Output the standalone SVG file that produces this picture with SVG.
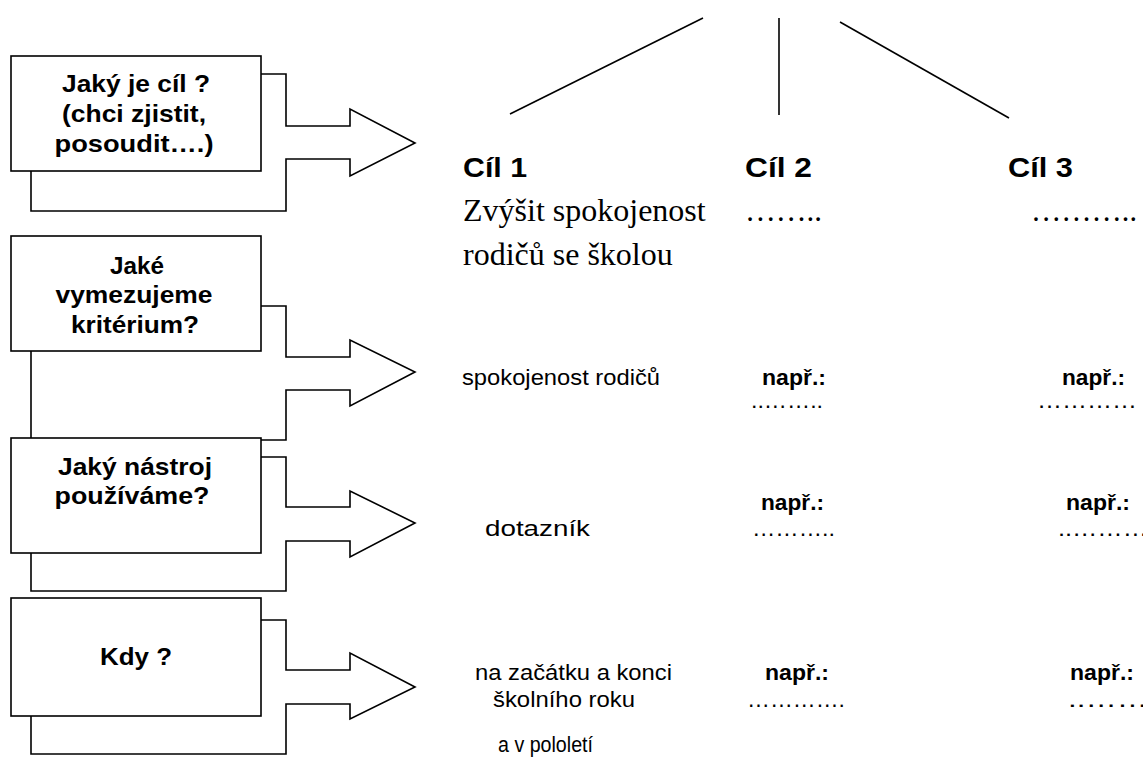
<svg xmlns="http://www.w3.org/2000/svg" width="1143" height="765" viewBox="0 0 1143 765">
<style>
.shape{fill:#fff;stroke:#000;stroke-width:1.6;stroke-linejoin:miter}
.ln{stroke:#000;stroke-width:1.6;fill:none}
.q{font-family:"Liberation Sans",Arial,sans-serif;font-weight:bold;font-size:24px;text-anchor:middle;fill:#000}
.h{font-family:"Liberation Sans",Arial,sans-serif;font-weight:bold;font-size:27px;fill:#000}
.s{font-family:"Liberation Serif","Times New Roman",serif;font-size:32px;fill:#000}
.t{font-family:"Liberation Sans",Arial,sans-serif;font-size:22px;fill:#000}
.b{font-family:"Liberation Sans",Arial,sans-serif;font-weight:bold;font-size:22px;fill:#000}
</style>
<rect width="1143" height="765" fill="#fff"/>
<g id="connectors">
<polygon class="shape" points="31,74 286,74 286,126 350,126 350,109 415,143 350,176 350,159 286,159 286,211 31,211"/>
<polygon class="shape" points="31,306 286,306 286,357 350,357 350,340 415,372 350,406 350,390 286,390 286,440 31,440"/>
<polygon class="shape" points="31,457 286,457 286,507 350,507 350,491 415,523 350,557 350,541 286,541 286,591 31,591"/>
<polygon class="shape" points="31,620 286,620 286,670 350,670 350,653 415,687 350,719 350,704 286,704 286,754 31,754"/>
<line class="ln" x1="510" y1="114" x2="703" y2="18"/>
<line class="ln" x1="779" y1="18" x2="779" y2="115"/>
<line class="ln" x1="840" y1="22" x2="1009" y2="118"/>
</g>
<g id="box-cil">
<rect class="shape" x="11" y="56" width="250" height="115"/>
<text class="q" x="136" y="92" textLength="148" lengthAdjust="spacingAndGlyphs">Jaký je cíl ?</text>
<text class="q" x="134" y="122" textLength="144" lengthAdjust="spacingAndGlyphs">(chci zjistit,</text>
<text class="q" x="134" y="152" textLength="159" lengthAdjust="spacingAndGlyphs">posoudit….)</text>
</g>
<g id="box-kriterium">
<rect class="shape" x="11" y="236" width="250" height="115"/>
<text class="q" x="137" y="274" textLength="54" lengthAdjust="spacingAndGlyphs">Jaké</text>
<text class="q" x="134" y="303" textLength="157" lengthAdjust="spacingAndGlyphs">vymezujeme</text>
<text class="q" x="135" y="333" textLength="128" lengthAdjust="spacingAndGlyphs">kritérium?</text>
</g>
<g id="box-nastroj">
<rect class="shape" x="11" y="438" width="250" height="115"/>
<text class="q" x="135" y="475" textLength="154" lengthAdjust="spacingAndGlyphs">Jaký nástroj</text>
<text class="q" x="132" y="504" textLength="155" lengthAdjust="spacingAndGlyphs">používáme?</text>
</g>
<g id="box-kdy">
<rect class="shape" x="11" y="598" width="250" height="118"/>
<text class="q" x="136" y="665" textLength="72" lengthAdjust="spacingAndGlyphs">Kdy ?</text>
</g>
<g id="cil1">
<text class="h" x="463" y="177" textLength="64" lengthAdjust="spacingAndGlyphs">Cíl 1</text>
<text class="s" x="463" y="221">Zvýšit spokojenost</text>
<text class="s" x="463" y="265">rodičů se školou</text>
<text class="t" x="462" y="385" textLength="198" lengthAdjust="spacingAndGlyphs">spokojenost rodičů</text>
<text class="t" x="485" y="536" textLength="105" lengthAdjust="spacingAndGlyphs">dotazník</text>
<text class="t" x="475" y="680" textLength="197" lengthAdjust="spacingAndGlyphs">na začátku a konci</text>
<text class="t" x="493" y="707" textLength="142" lengthAdjust="spacingAndGlyphs">školního roku</text>
<text class="t" x="498" y="752" textLength="95" lengthAdjust="spacingAndGlyphs">a v pololetí</text>
</g>
<g id="cil2">
<text class="h" x="745" y="177" textLength="67" lengthAdjust="spacingAndGlyphs">Cíl 2</text>
<text class="s" x="745" y="221" textLength="77" lengthAdjust="spacingAndGlyphs">……..</text>
<text class="b" x="762" y="385" textLength="64" lengthAdjust="spacingAndGlyphs">např.:</text>
<text class="t" x="751" y="408" textLength="72" lengthAdjust="spacingAndGlyphs">..……..</text>
<text class="b" x="761" y="510" textLength="63" lengthAdjust="spacingAndGlyphs">např.:</text>
<text class="t" x="752" y="536" textLength="83" lengthAdjust="spacingAndGlyphs">………..</text>
<text class="b" x="765" y="680" textLength="64" lengthAdjust="spacingAndGlyphs">např.:</text>
<text class="t" x="747" y="707" textLength="98" lengthAdjust="spacingAndGlyphs">………….</text>
</g>
<g id="cil3">
<text class="h" x="1008" y="177" textLength="65" lengthAdjust="spacingAndGlyphs">Cíl 3</text>
<text class="s" x="1031" y="221" textLength="106" lengthAdjust="spacingAndGlyphs">………..</text>
<text class="b" x="1062" y="385" textLength="63" lengthAdjust="spacingAndGlyphs">např.:</text>
<text class="t" x="1037" y="408" textLength="100" lengthAdjust="spacingAndGlyphs">…………</text>
<text class="b" x="1066" y="510" textLength="64" lengthAdjust="spacingAndGlyphs">např.:</text>
<text class="t" x="1058" y="536" textLength="90" lengthAdjust="spacingAndGlyphs">..………</text>
<text class="b" x="1070" y="680" textLength="64" lengthAdjust="spacingAndGlyphs">např.:</text>
<text class="t" x="1068" y="707" textLength="80" lengthAdjust="spacingAndGlyphs">..……</text>
</g>
</svg>
